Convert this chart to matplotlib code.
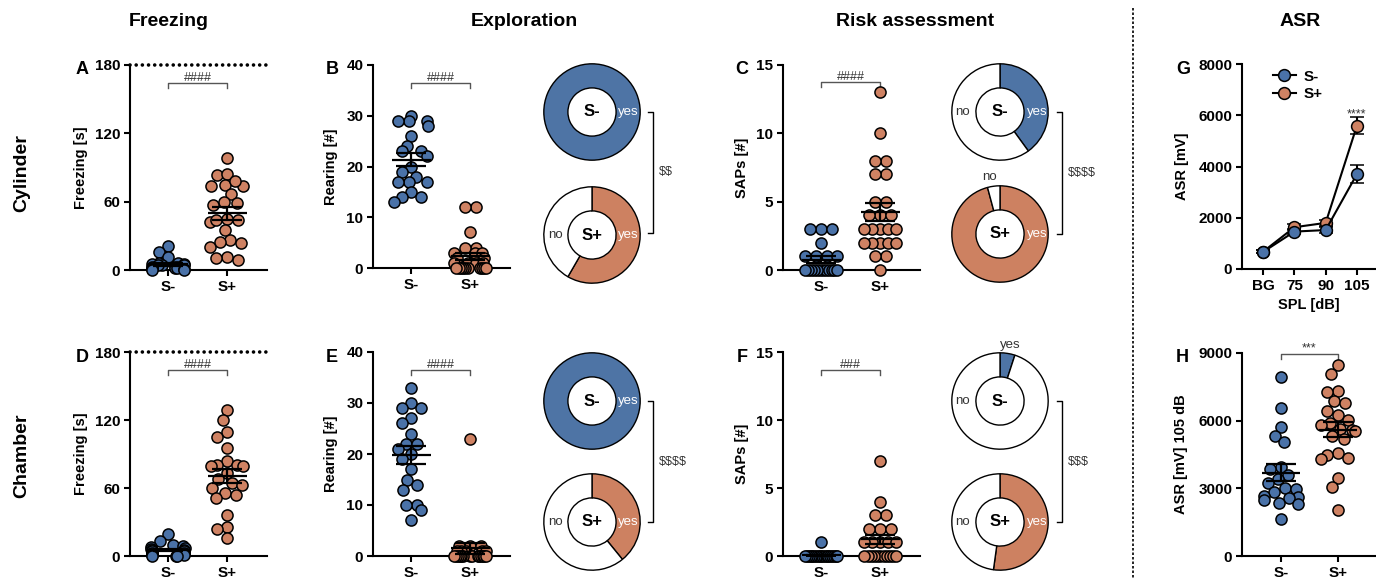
import numpy as np
import matplotlib
matplotlib.use("Agg")
import matplotlib.pyplot as plt
from matplotlib.lines import Line2D

plt.rcParams['font.family'] = ['Liberation Sans', 'DejaVu Sans']
plt.rcParams['font.weight'] = 'bold'
plt.rcParams['axes.labelweight'] = 'bold'
plt.rcParams['axes.linewidth'] = 1.5
plt.rcParams['xtick.major.width'] = 1.5
plt.rcParams['ytick.major.width'] = 1.5
plt.rcParams['xtick.major.size'] = 4
plt.rcParams['ytick.major.size'] = 4
plt.rcParams['xtick.labelsize'] = 11
plt.rcParams['ytick.labelsize'] = 11

W, H = 1376, 578
BLUE = '#4A72A8'
ORANGE = '#CF8263'
PIE_BLUE = '#4E74A5'
PIE_ORANGE = '#CD8161'

groups = ['S-', 'S+']

# A - freezing, cylinder
freeze_cyl_neg = [21, 16, 11, 6, 6, 5, 5, 4, 4, 4, 3, 3, 3, 2, 2, 2, 1, 1, 0, 0]
freeze_cyl_pos = [98.5, 83, 84.6, 74, 74, 75, 78, 67, 60, 57, 58.6, 42, 44, 44, 44.4,
                  35, 26.6, 20, 24.5, 23.7, 8.9, 11, 10.7]
# B - rearing, cylinder
rear_cyl_neg = [30, 29, 29, 29, 28, 26, 24, 23, 23, 22, 20, 19, 18, 17, 17, 17, 15, 14, 14, 13]
rear_cyl_pos = [12, 12, 7, 4, 4, 3, 3, 3, 2, 2, 1, 1, 1, 1, 0, 0, 0, 0, 0, 0, 0, 0, 0, 0]
# C - SAPs, cylinder
sap_cyl_neg = [3, 3, 3, 2, 1, 1, 1, 1, 0, 0, 0, 0, 0, 0, 0, 0, 0, 0, 0, 0]
sap_cyl_pos = [13, 10, 8, 8, 7, 7, 5, 5, 4, 4, 4, 3, 3, 3, 3, 3, 2, 2, 2, 2, 2, 1, 1, 0]
# D - freezing, chamber
freeze_cha_neg = [19, 13, 10, 9, 8, 7, 6, 5, 5, 4, 4, 3, 3, 2, 2, 1, 1, 0, 0, 0]
freeze_cha_pos = [129, 120, 109, 105, 95, 84, 80, 80, 79, 79, 73, 68, 64, 63, 60,
                  56, 54, 51, 36, 26, 24, 16]
# E - rearing, chamber
rear_cha_neg = [33, 30, 29, 29, 27, 26, 24, 22, 22, 21, 20, 19, 17, 15, 14, 13, 10, 10, 9, 7]
rear_cha_pos = [23, 2, 2, 2, 1, 1, 1, 1, 1, 0, 0, 0, 0, 0, 0, 0, 0, 0, 0, 0, 0, 0, 0]
# F - SAPs, chamber
sap_cha_neg = [1, 0, 0, 0, 0, 0, 0, 0, 0, 0, 0, 0, 0, 0, 0, 0, 0, 0, 0, 0]
sap_cha_pos = [7, 4, 3, 3, 2, 2, 2, 1, 1, 1, 1, 1, 0, 0, 0, 0, 0, 0, 0, 0, 0, 0, 0]
# G - ASR curve
spl_labels = ['BG', '75', '90', '105']
asr_neg_mean = [670, 1460, 1520, 3700]
asr_neg_sem = [60, 110, 120, 360]
asr_pos_mean = [680, 1630, 1800, 5590]
asr_pos_sem = [60, 110, 120, 330]
# H - ASR at 105 dB
asr105_neg = [7950, 6550, 5700, 5300, 5050, 3950, 3850, 3600, 3400, 3250,
              3000, 2950, 2850, 2650, 2600, 2550, 2500, 2350, 2300, 1650]
asr105_pos = [8450, 8080, 7300, 7250, 6850, 6800, 6450, 6250, 6050, 5900, 5800, 5650,
              5600, 5550, 5300, 5200, 4550, 4500, 4350, 4300, 3450, 3050, 2050]

fig = plt.figure(figsize=(W / 100, H / 100), dpi=100)


def px_axes(l, t, r, b, **kw):
    return fig.add_axes([l / W, 1 - b / H, (r - l) / W, (b - t) / H], **kw)


def swarm(vals, ypx, d=11, maxw=16):
    vals = np.asarray(vals, float)
    y = vals * ypx
    off = np.zeros(len(vals))
    placed = []
    for i in np.argsort(-vals, kind='stable'):
        cands = [0.0]
        for xj, yj in placed:
            dy = y[i] - yj
            if abs(dy) < d:
                dx = np.sqrt(d * d - dy * dy)
                cands += [xj + dx, xj - dx]
        cands.sort(key=lambda c: (abs(c), c))
        for c in cands:
            if all((c - xj) ** 2 + (y[i] - yj) ** 2 >= d * d - 1e-6 for xj, yj in placed):
                off[i] = c
                break
        placed.append((off[i], y[i]))
    # centre rows of equal values and squeeze wide rows
    for u in np.unique(vals):
        m = vals == u
        if m.sum() > 1:
            o = off[m] - off[m].mean()
            if np.abs(o).max() > maxw:
                o = o * maxw / np.abs(o).max()
            off[m] = o
    return np.clip(off, -maxw - 1, maxw + 1)


def style(ax):
    for s in ['top', 'right']:
        ax.spines[s].set_visible(False)
    ax.tick_params(direction='out', pad=3)


def bracket(ax, y, text, drop=0.025, x0=0, x1=1):
    tr = ax.get_xaxis_transform()
    ax.plot([x0, x0, x1, x1], [y - drop, y, y, y - drop], color='#555555', lw=1,
            transform=tr, clip_on=False)
    ax.text((x0 + x1) / 2, y + 0.008, text, transform=tr, ha='center', va='baseline',
            fontsize=9, fontweight='normal', color='#333333')


def dot_panel(rect, neg, pos, ymax, yticks, ylabel, labx, sig, dotted=False,
              xlim=(-0.65, 1.67), sig_y=0.912):
    ax = px_axes(*rect)
    ax.set_xlim(*xlim)
    ax.set_ylim(0, ymax)
    wpx = rect[2] - rect[0]
    hpx = rect[3] - rect[1]
    xpx = wpx / (xlim[1] - xlim[0])
    ypx = hpx / ymax
    for k, (vals, col) in enumerate([(neg, BLUE), (pos, ORANGE)]):
        xs = k + swarm(vals, ypx) / xpx
        ax.scatter(xs, vals, s=64, c=col, edgecolors='k', linewidths=1.1,
                   zorder=3, clip_on=False)
        m = np.mean(vals)
        se = np.std(vals, ddof=1) / np.sqrt(len(vals))
        ax.plot([k - 0.33, k + 0.33], [m, m], color='k', lw=1.6, zorder=4,
                solid_capstyle='butt')
        ax.errorbar(k, m, yerr=se, color='k', lw=1.6, capsize=11, capthick=1.6,
                    zorder=4, fmt='none')
    ax.set_xticks([0, 1])
    ax.set_xticklabels(groups)
    ax.set_yticks(yticks)
    ax.set_ylabel(ylabel, fontsize=10.5, va='center')
    ax.yaxis.set_label_coords(labx, 0.5)
    if dotted:
        ax.axhline(ymax, ls=(0, (0.01, 1.7)), lw=2.6, color='k', clip_on=False,
                   zorder=1, dash_capstyle='round')
    style(ax)
    bracket(ax, sig_y, sig)
    return ax


def pie_panel(cx, cy, vals, color, center, labels):
    ax = px_axes(cx - 53, cy - 53, cx + 53, cy + 53)
    v = [x for x in vals if x > 0]
    c = [col for x, col in zip(vals, [color, 'white']) if x > 0]
    ax.pie(v, colors=c, startangle=90, counterclock=False, radius=1,
           wedgeprops=dict(width=0.5, edgecolor='k', linewidth=1))
    ax.set_xlim(-1.1, 1.1)
    ax.set_ylim(-1.1, 1.1)
    ax.set_aspect('equal')
    ax.axis('off')
    ax.text(0, 0, center, ha='center', va='center', fontsize=12, fontweight='bold')
    for txt, x, y, col in labels:
        ax.text(x, y, txt, ha='center', va='center', fontsize=9.5,
                fontweight='normal', color=col, clip_on=False)
    return ax


def yes_no(vals):
    vals = np.asarray(vals)
    return [int((vals > 0).sum()), int((vals == 0).sum())]


# scatter panels
dot_panel((130, 65, 267, 270), freeze_cyl_neg, freeze_cyl_pos, 180, [0, 60, 120, 180],
          'Freezing [s]', -0.36, '####', dotted=True)
dot_panel((373, 65, 510, 268), rear_cyl_neg, rear_cyl_pos, 40, [0, 10, 20, 30, 40],
          'Rearing [#]', -0.31, '####')
dot_panel((783, 65, 920, 270), sap_cyl_neg, sap_cyl_pos, 15, [0, 5, 10, 15],
          'SAPs [#]', -0.30, '####', sig_y=0.917)
dot_panel((130, 352, 267, 556), freeze_cha_neg, freeze_cha_pos, 180, [0, 60, 120, 180],
          'Freezing [s]', -0.36, '####', dotted=True)
dot_panel((373, 352, 510, 556), rear_cha_neg, rear_cha_pos, 40, [0, 10, 20, 30, 40],
          'Rearing [#]', -0.31, '####')
dot_panel((783, 352, 920, 556), sap_cha_neg, sap_cha_pos, 15, [0, 5, 10, 15],
          'SAPs [#]', -0.30, '###')
axh = dot_panel((1242, 353, 1375, 556), asr105_neg, asr105_pos, 9000,
                [0, 3000, 6000, 9000], 'ASR [mV] 105 dB', -0.46, '', xlim=(-0.68, 1.65),
                sig_y=0.995)
axh.text(0.5, 1.01, '***', transform=axh.get_xaxis_transform(), ha='center',
         va='baseline', fontsize=9, fontweight='normal', color='#333333')

# pies
W_ = 'white'
D_ = '#333333'
pie_panel(592, 112, yes_no(rear_cyl_neg), PIE_BLUE, 'S-', [('yes', 0.75, 0, W_)])
pie_panel(592, 235, yes_no(rear_cyl_pos), PIE_ORANGE, 'S+',
          [('yes', 0.75, 0, W_), ('no', -0.75, 0, D_)])
pie_panel(1000, 112, yes_no(sap_cyl_neg), PIE_BLUE, 'S-',
          [('yes', 0.77, 0, W_), ('no', -0.77, 0, D_)])
pie_panel(1000, 234, yes_no(sap_cyl_pos), PIE_ORANGE, 'S+',
          [('yes', 0.77, 0, W_), ('no', -0.21, 1.19, D_)])
pie_panel(592, 401, yes_no(rear_cha_neg), PIE_BLUE, 'S-', [('yes', 0.75, 0, W_)])
pie_panel(592, 522, yes_no(rear_cha_pos), PIE_ORANGE, 'S+',
          [('yes', 0.75, 0, W_), ('no', -0.75, 0, D_)])
pie_panel(1000, 401, yes_no(sap_cha_neg), PIE_BLUE, 'S-',
          [('yes', 0.21, 1.17, D_), ('no', -0.77, 0, D_)])
pie_panel(1000, 522, yes_no(sap_cha_pos), PIE_ORANGE, 'S+',
          [('yes', 0.77, 0, W_), ('no', -0.77, 0, D_)])

# G - ASR line plot
axg = px_axes(1242, 64, 1375, 269)
xg = np.arange(len(spl_labels))
for mean, sem, col in [(asr_pos_mean, asr_pos_sem, ORANGE), (asr_neg_mean, asr_neg_sem, BLUE)]:
    axg.errorbar(xg, mean, yerr=sem, color='k', lw=1.5, capsize=5, capthick=1.5,
                 marker='o', ms=8.5, mfc=col, mec='k', mew=1.1, zorder=3)
axg.set_xlim(-0.68, 3.58)
axg.set_ylim(0, 8000)
axg.set_xticks(xg)
axg.set_xticklabels(spl_labels)
axg.set_yticks([0, 2000, 4000, 6000, 8000])
axg.set_xlabel('SPL [dB]', fontsize=10.5, labelpad=4)
axg.set_ylabel('ASR [mV]', fontsize=10.5, va='center')
axg.yaxis.set_label_coords(-0.45, 0.5)
style(axg)
axg.text(3, 5930, '****', ha='center', va='baseline', fontsize=9, fontweight='normal',
         color='#333333')
hs = [Line2D([], [], color='k', lw=1.5, marker='o', ms=8.5, mfc=c, mec='k', mew=1.1)
      for c in (BLUE, ORANGE)]
axg.legend(hs, groups, loc='upper left', bbox_to_anchor=(0.13, 1.04), frameon=False,
           prop=dict(size=11, weight='bold'), handlelength=1.5, handletextpad=0.5,
           labelspacing=0.25)

# overlay for titles, letters, separators
ov = fig.add_axes([0, 0, 1, 1], zorder=10)
ov.set_xlim(0, W)
ov.set_ylim(H, 0)
ov.axis('off')
for txt, x in [('Freezing', 169), ('Exploration', 524), ('Risk assessment', 915), ('ASR', 1300)]:
    ov.text(x, 22, txt, ha='center', va='center', fontsize=14, fontweight='bold')
ov.text(22, 173, 'Cylinder', rotation=90, ha='center', va='center', fontsize=14)
ov.text(22, 456, 'Chamber', rotation=90, ha='center', va='center', fontsize=14)
for txt, x, y in [('A', 82, 69), ('B', 332, 69), ('C', 742, 69), ('G', 1183, 69),
                  ('D', 82, 358), ('E', 332, 358), ('F', 742, 358), ('H', 1182, 358)]:
    ov.text(x, y, txt, ha='center', va='center', fontsize=13, fontweight='bold')
ov.plot([1133, 1133], [8, 578], color='k', lw=1.2, ls=(0, (1.5, 1.2)))

for x, y0, y1, txt in [(653, 112, 233, '$$'), (1062, 112, 234, '$$$$'),
                       (653, 401, 522, '$$$$'), (1062, 401, 522, '$$$')]:
    ov.plot([x - 5, x, x, x - 5], [y0, y0, y1, y1], color='k', lw=1)
    ov.text(x + 6, (y0 + y1) / 2, txt, ha='left', va='center', fontsize=9,
            fontweight='normal', color='#333333', parse_math=False)

fig.savefig('out.png', dpi=100)
